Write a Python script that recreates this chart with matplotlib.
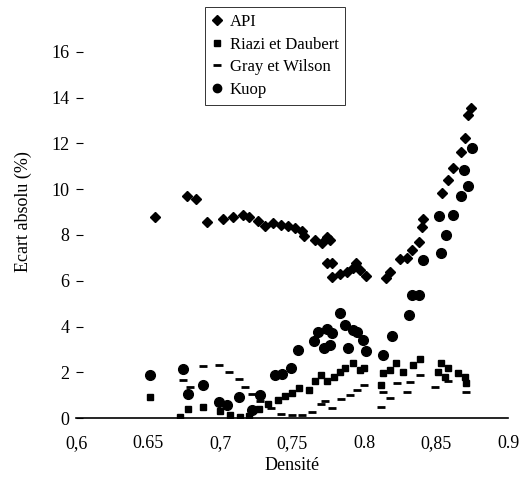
import matplotlib
matplotlib.use("Agg")
import matplotlib.pyplot as plt
from matplotlib.lines import Line2D

plt.rcParams['font.family'] = ['Liberation Serif', 'DejaVu Serif']

# API
api_x = [0.655, 0.677, 0.683, 0.691, 0.702, 0.709, 0.716, 0.720, 0.726, 0.731,
         0.737, 0.742, 0.747, 0.752, 0.757, 0.758, 0.766, 0.771, 0.774, 0.776,
         0.774, 0.778, 0.778, 0.783, 0.788, 0.792, 0.794, 0.797, 0.801, 0.815,
         0.818, 0.825, 0.830, 0.833, 0.838, 0.840, 0.841, 0.854, 0.858, 0.862,
         0.867, 0.870, 0.872, 0.874]
api_y = [8.78, 9.69, 9.56, 8.56, 8.69, 8.78, 8.86, 8.78, 8.60, 8.38,
         8.52, 8.43, 8.38, 8.30, 8.17, 7.95, 7.77, 7.64, 7.90, 7.77,
         6.77, 6.77, 6.16, 6.29, 6.38, 6.55, 6.77, 6.46, 6.20, 6.11,
         6.38, 6.94, 6.99, 7.34, 7.69, 8.34, 8.69, 9.83, 10.39, 10.92,
         11.62, 12.23, 13.23, 13.54]

# Riazi et Daubert
riazi_x = [0.651, 0.672, 0.678, 0.688, 0.700, 0.707, 0.714, 0.720, 0.727, 0.733,
           0.740, 0.745, 0.750, 0.755, 0.762, 0.766, 0.770, 0.774, 0.779, 0.783,
           0.787, 0.792, 0.797, 0.800, 0.812, 0.813, 0.818, 0.822, 0.827, 0.834,
           0.839, 0.851, 0.853, 0.856, 0.858, 0.865, 0.870, 0.871]
riazi_y = [0.92, 0.04, 0.39, 0.48, 0.30, 0.15, 0.05, 0.10, 0.40, 0.60,
           0.80, 0.95, 1.10, 1.30, 1.22, 1.60, 1.90, 1.60, 1.80, 2.00,
           2.20, 2.40, 2.10, 2.20, 1.44, 1.97, 2.10, 2.40, 2.00, 2.30,
           2.60, 2.00, 2.40, 1.80, 2.20, 1.97, 1.79, 1.53]

# Gray et Wilson
gray_x = [0.674, 0.679, 0.688, 0.699, 0.706, 0.713, 0.717, 0.722, 0.728, 0.735,
          0.742, 0.750, 0.757, 0.764, 0.770, 0.773, 0.778, 0.784, 0.790, 0.795,
          0.800, 0.812, 0.813, 0.818, 0.823, 0.830, 0.832, 0.839, 0.849, 0.858,
          0.871]
gray_y = [1.66, 1.35, 2.27, 2.31, 2.01, 1.70, 1.35, 1.05, 0.75, 0.45,
          0.20, 0.15, 0.15, 0.25, 0.60, 0.75, 0.45, 0.85, 1.00, 1.22,
          1.45, 0.48, 1.14, 0.90, 1.53, 1.14, 1.57, 1.88, 1.35, 1.60,
          1.14]

# Kuop
kuop_x = [0.651, 0.674, 0.678, 0.688, 0.699, 0.705, 0.713, 0.722, 0.728, 0.738,
          0.743, 0.749, 0.754, 0.765, 0.768, 0.774, 0.778, 0.772, 0.776, 0.783,
          0.787, 0.792, 0.795, 0.799, 0.789, 0.801, 0.813, 0.819, 0.831, 0.833,
          0.838, 0.841, 0.853, 0.857, 0.852, 0.862, 0.867, 0.872, 0.869, 0.875]
kuop_y = [1.88, 2.14, 1.05, 1.44, 0.70, 0.57, 0.92, 0.35, 1.00, 1.88,
          1.92, 2.18, 2.97, 3.36, 3.76, 3.89, 3.71, 3.06, 3.19, 4.59,
          4.06, 3.84, 3.76, 3.41, 3.06, 2.93, 2.75, 3.58, 4.50, 5.37,
          5.37, 6.90, 7.21, 7.99, 8.82, 8.86, 9.69, 10.13, 10.83, 11.79]

x_ticks = [0.6, 0.65, 0.7, 0.75, 0.8, 0.85, 0.9]
x_labels = ["0,6", "0.65", "0,7", "0,75", "0.8", "0,85", "0.9"]
y_ticks = [0, 2, 4, 6, 8, 10, 12, 14, 16]

fig = plt.figure(figsize=(5.25, 4.96), dpi=100)
ax = fig.add_axes([0.145, 0.157, 0.823, 0.831])

ax.plot(api_x, api_y, 'D', color='black', markersize=5.5, linestyle='none')
ax.plot(riazi_x, riazi_y, 's', color='black', markersize=5, linestyle='none')
ax.plot(gray_x, gray_y, '_', color='black', markersize=6, markeredgewidth=2,
        linestyle='none')
ax.plot(kuop_x, kuop_y, 'o', color='black', markersize=7, linestyle='none')

ax.set_xlim(0.6, 0.9)
ax.set_ylim(0, 18)
ax.set_xticks(x_ticks)
ax.set_xticklabels(x_labels)
ax.set_yticks(y_ticks)
ax.tick_params(axis='y', direction='in', length=5, pad=5, labelsize=13)
ax.tick_params(axis='x', length=0, pad=12, labelsize=13)

for s in ['top', 'right', 'left']:
    ax.spines[s].set_visible(False)
ax.spines['bottom'].set_linewidth(1.2)

ax.set_xlabel("Densité", fontsize=13, labelpad=4)
ax.set_ylabel("Ecart absolu (%)", fontsize=13, labelpad=14)

handles = [
    Line2D([], [], marker='D', color='black', linestyle='none', markersize=5),
    Line2D([], [], marker='s', color='black', linestyle='none', markersize=5),
    Line2D([], [], marker='_', color='black', linestyle='none', markersize=6,
           markeredgewidth=2),
    Line2D([], [], marker='o', color='black', linestyle='none', markersize=6),
]
leg = ax.legend(handles, ["API", "Riazi et Daubert", "Gray et Wilson", "Kuop"],
                loc='upper left', bbox_to_anchor=(0.298, 0.997), fontsize=12,
                frameon=True, fancybox=False, handlelength=0.6,
                handletextpad=0.5, borderpad=0.4, labelspacing=0.4,
                borderaxespad=0)
leg.get_frame().set_edgecolor('black')
leg.get_frame().set_linewidth(0.7)

fig.savefig("out.png", dpi=100)
